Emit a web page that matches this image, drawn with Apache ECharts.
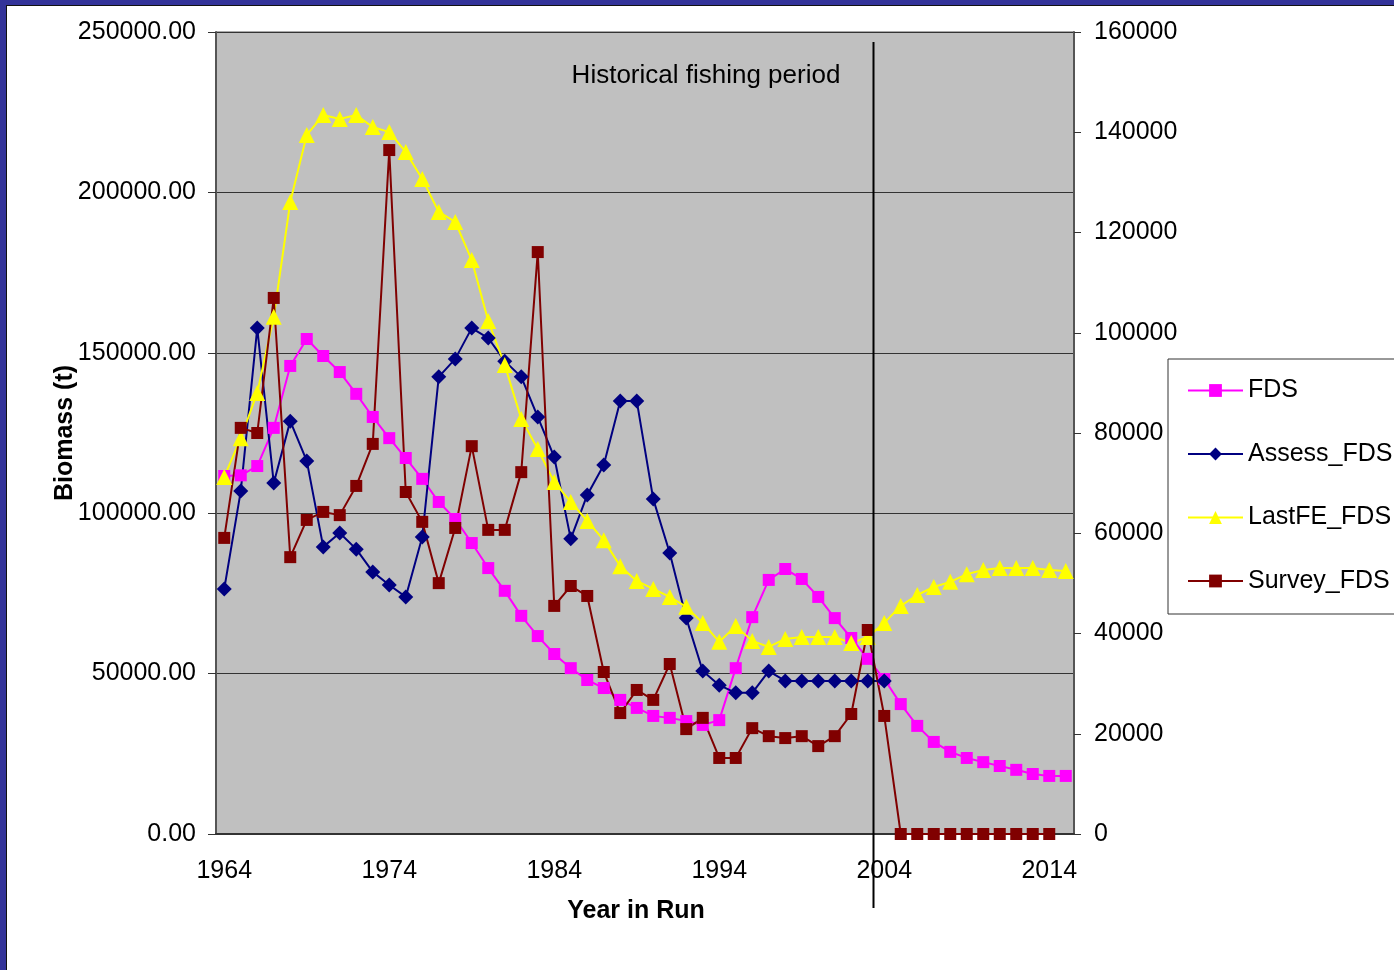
<!DOCTYPE html>
<html>
<head>
<meta charset="utf-8">
<title>Biomass</title>
<script src="https://cdn.jsdelivr.net/npm/echarts@6/dist/echarts.min.js"></script>
<style>
    html, body { margin: 0; padding: 0; background: #fff; }
    #main { width: 1394px; height: 970px; }
</style>
</head>
<body>
<div id="main"></div>
<script>
    // data (left axis units, t)
    const years = [];
    for (let y = 1964; y <= 2015; y++) years.push(String(y));

    const fds = [111600, 111800, 114700, 126600, 145900, 154300, 149000, 144000, 137200, 130000,
        123400, 117200, 110700, 103500, 98200, 90700, 82900, 75800, 68000, 61700,
        56100, 51700, 48000, 45500, 41800, 39300, 36800, 36200, 35200, 34000,
        35500, 51700, 67600, 79200, 82600, 79500, 73900, 67300, 61100, 54600,
        48300, 40500, 33700, 28700, 25600, 23700, 22400, 21200, 20000, 18700,
        18100, 18100];

    const assessFds = [76400, 106900, 157700, 109400, 128700, 116300, 89500, 93800, 88800, 81700,
        77600, 73900, 92600, 142500, 148100, 157700, 154600, 147400, 142500, 130000,
        117500, 92000, 105700, 115000, 135000, 135000, 104400, 87600, 67300, 50800,
        46400, 44000, 44000, 50800, 47700, 47700, 47700, 47700, 47700, 47700,
        47700, null, null, null, null, null, null, null, null, null,
        null, null];

    const lastFeFds = [111300, 123400, 137500, 161200, 197000, 217900, 224100, 222900, 224100, 220400,
        218800, 212600, 204200, 193900, 190800, 178900, 159900, 146200, 129400, 120000,
        109700, 103500, 97600, 91600, 83500, 78900, 76400, 73900, 70800, 65800,
        59900, 64800, 60200, 58300, 60800, 61400, 61400, 61400, 59500, 61400,
        65800, 71100, 74500, 77000, 78600, 81000, 82300, 82900, 82900, 82900,
        82300, 82000];

    const surveyFds = [92300, 126600, 125000, 167100, 86300, 97900, 100400, 99400, 108500, 121600,
        213200, 106600, 97300, 78200, 95400, 120900, 94800, 94800, 112800, 181400,
        71100, 77300, 74200, 50500, 37700, 44900, 41800, 53000, 32700, 36200,
        23700, 23700, 33000, 30500, 29900, 30500, 27400, 30500, 37400, 63600,
        36800, 0, 0, 0, 0, 0, 0, 0, 0, 0,
        0, null];

    const FONT = 'Liberation Sans';

    function lineSeries(name, data, color, symbol, size) {
        return {
            name: name,
            type: 'line',
            data: data,
            symbol: symbol,
            symbolSize: size,
            showAllSymbol: true,
            connectNulls: false,
            lineStyle: { color: color, width: 2 },
            itemStyle: { color: color, borderWidth: 0 },
            emphasis: { disabled: true }
        };
    }

    const myChart = echarts.init(document.getElementById('main'));

    const option = {
        animation: false,
        backgroundColor: '#fff',
        textStyle: { fontFamily: FONT },
        grid: {
            left: 216, top: 32, right: 320, bottom: 136,
            show: true,
            backgroundColor: '#c0c0c0',
            borderColor: '#555',
            borderWidth: 1
        },
        legend: {
            orient: 'vertical',
            left: 1168,
            top: 359,
            itemWidth: 55,
            itemHeight: 16,
            itemGap: 38.5,
            padding: [19, 40, 20.5, 19],
            borderColor: '#333',
            borderWidth: 1,
            backgroundColor: '#fff',
            textStyle: { fontFamily: FONT, fontSize: 25, color: '#000' },
            data: ['FDS', 'Assess_FDS', 'LastFE_FDS', 'Survey_FDS']
        },
        xAxis: {
            type: 'category',
            data: years,
            boundaryGap: true,
            name: 'Year in Run',
            nameLocation: 'middle',
            nameGap: 65,
            nameTextStyle: {
                fontFamily: FONT, fontSize: 25, fontWeight: 'bold', color: '#000',
                padding: [0, 18, 0, 0]
            },
            axisLine: { lineStyle: { color: '#333', width: 2 } },
            axisTick: { interval: 4, length: 7, lineStyle: { color: '#333' } },
            axisLabel: { interval: 9, fontSize: 25, color: '#000', margin: 25, fontFamily: FONT },
            splitLine: { show: false }
        },
        yAxis: [{
            type: 'value',
            min: 0, max: 250000, interval: 50000,
            name: 'Biomass (t)',
            nameLocation: 'middle',
            nameGap: 138,
            nameMoveOverlap: false,
            nameTextStyle: { fontFamily: FONT, fontSize: 25, fontWeight: 'bold', color: '#000' },
            axisLine: { show: true, lineStyle: { color: '#555', width: 2 } },
            axisTick: { show: true, length: 8, lineStyle: { color: '#333' } },
            axisLabel: {
                fontSize: 25, color: '#000', margin: 20, fontFamily: FONT,
                formatter: function (v) { return v.toFixed(2); }
            },
            splitLine: { lineStyle: { color: '#333', width: 1 } }
        }, {
            type: 'value',
            position: 'right',
            min: 0, max: 160000, interval: 20000,
            axisLine: { show: true, lineStyle: { color: '#555', width: 2 } },
            axisTick: { show: true, length: 7, lineStyle: { color: '#333' } },
            axisLabel: {
                fontSize: 25, color: '#000', margin: 20, fontFamily: FONT,
                formatter: function (v) { return String(v); }
            },
            splitLine: { show: false }
        }],
        series: [
            lineSeries('FDS', fds, '#ff00ff', 'rect', 12),
            lineSeries('Assess_FDS', assessFds, '#000080', 'diamond', 15),
            lineSeries('LastFE_FDS', lastFeFds, '#ffff00', 'triangle', 16),
            lineSeries('Survey_FDS', surveyFds, '#800000', 'rect', 12)
        ]
    };
    myChart.setOption(option);

    // marker line a bit after 2003 and the slide frame
    const x03 = myChart.convertToPixel({ xAxisIndex: 0 }, '2003');
    const x04 = myChart.convertToPixel({ xAxisIndex: 0 }, '2004');
    const lineX = Math.round(x03 + (x04 - x03) * 0.3) + 0.5;

    myChart.setOption({
        graphic: [
            {
                type: 'line',
                shape: { x1: lineX, y1: 42, x2: lineX, y2: 908 },
                style: { stroke: '#000', lineWidth: 2 },
                z: 100
            },
            {
                type: 'text',
                style: {
                    x: 706, y: 76,
                    text: 'Historical fishing period',
                    fontFamily: FONT, fontSize: 26, fill: '#000',
                    textAlign: 'center', textVerticalAlign: 'middle'
                },
                z: 100
            },
            { type: 'rect', shape: { x: 0, y: 0, width: 1394, height: 5 }, style: { fill: '#333399' }, z: 200 },
            { type: 'rect', shape: { x: 0, y: 0, width: 6, height: 970 }, style: { fill: '#333399' }, z: 200 },
            { type: 'rect', shape: { x: 6, y: 5, width: 1388, height: 1 }, style: { fill: '#111' }, z: 200 },
            { type: 'rect', shape: { x: 6, y: 5, width: 1, height: 965 }, style: { fill: '#111' }, z: 200 }
        ]
    });
</script>
</body>
</html>
